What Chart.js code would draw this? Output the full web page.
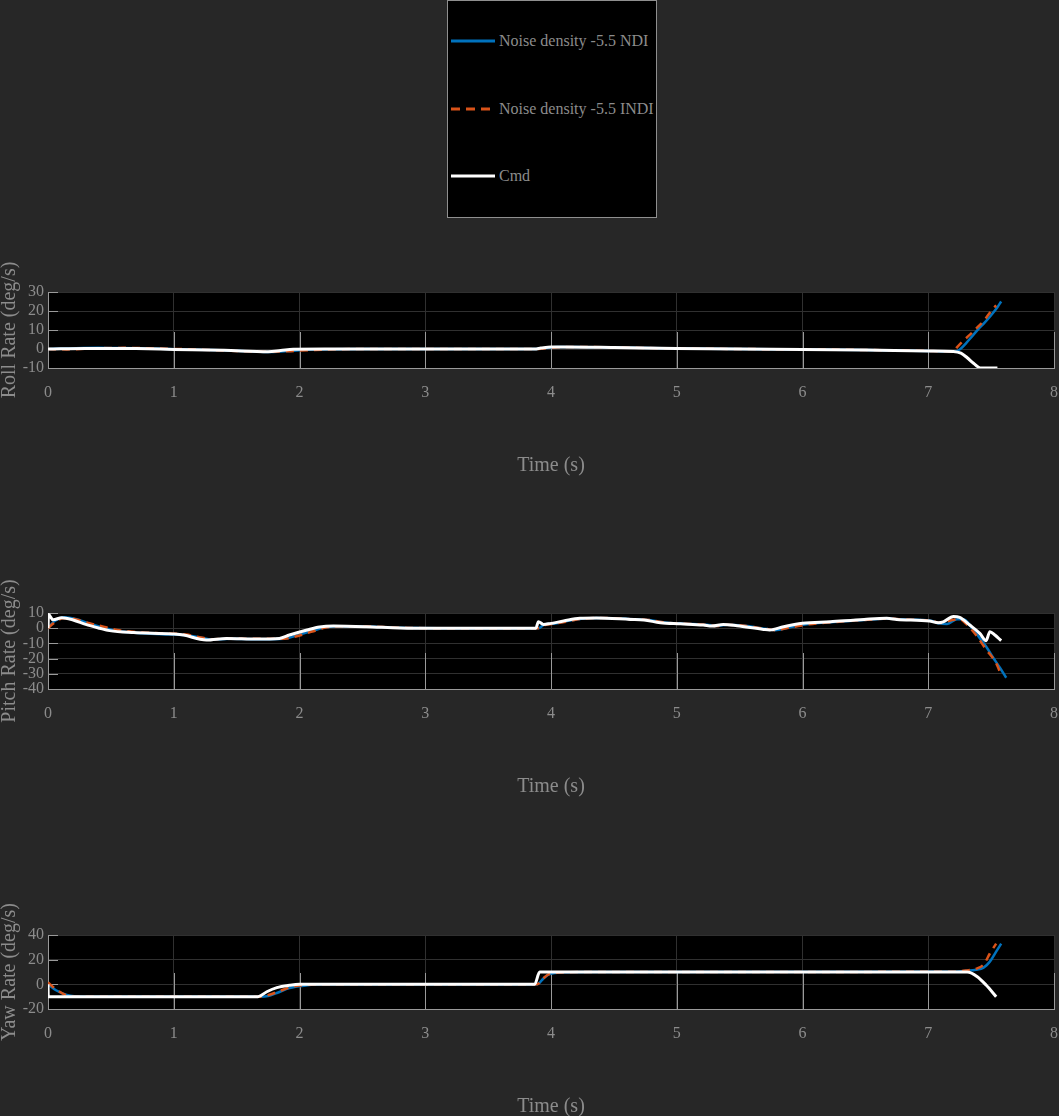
<!DOCTYPE html>
<html><head><meta charset="utf-8">
<script src="https://cdn.jsdelivr.net/npm/chart.js@4.4.1/dist/chart.umd.min.js"></script>
<style>
html,body{margin:0;padding:0;background:#272727;width:1059px;height:1116px;overflow:hidden;}
canvas{position:absolute;left:0;}
#legend{position:absolute;left:447px;top:0;width:210px;height:218px;background:#000;border:1px solid #8f8f8f;box-sizing:border-box;font-family:'Liberation Serif',serif;color:#8c8c8c;font-size:16px;}
.item{position:absolute;left:3px;height:20px;display:flex;align-items:center;white-space:nowrap;}
.item svg{margin-right:4px;}
</style>
</head><body>
<div id="legend"></div>
<canvas id="roll" width="1059" height="230" style="top:250px"></canvas>
<canvas id="pitch" width="1059" height="230" style="top:571px"></canvas>
<canvas id="yaw" width="1059" height="228" style="top:893px"></canvas>
<script>
// ---------- data ----------
const seriesNames = ['Noise density -5.5 NDI', 'Noise density -5.5 INDI', 'Cmd'];
const xTicks = [0, 1, 2, 3, 4, 5, 6, 7, 8];

// Roll rate (deg/s): [time, value]
const rollNDI = [[0,0],[0.15,0.3],[0.4,0.7],[0.6,0.5],[0.9,0.1],[1.2,-0.4],[1.5,-0.9],[1.75,-1.6],[1.9,-1.1],[2.1,-0.3],[2.5,0],[3.0,0],[3.88,0],[3.95,0.4],[4.05,1.0],[4.2,1.1],[4.5,0.8],[5.0,0.3],[5.5,0],[6.0,-0.2],[6.5,-0.5],[7.0,-1.0],[7.22,-1.3],[7.26,0.3],[7.3,3.0],[7.35,6.8],[7.4,10.6],[7.45,14.0],[7.5,17.8],[7.55,22.0],[7.58,25.0]];
const rollINDI = [[0,0],[0.15,-0.2],[0.4,0.4],[0.6,0.6],[0.9,0.2],[1.2,-0.3],[1.5,-1.0],[1.75,-1.4],[1.9,-1.2],[2.1,-0.5],[2.5,0],[3.0,0],[3.88,0],[3.95,0.2],[4.05,0.9],[4.2,1.1],[4.5,0.8],[5.0,0.3],[5.5,0],[6.0,-0.2],[6.5,-0.5],[7.0,-1.0],[7.2,-1.3],[7.23,1.0],[7.28,4.5],[7.33,7.4],[7.4,12.0],[7.45,15.5],[7.5,20.0],[7.54,23.0]];
const rollCmd = [[0,0],[0.3,0.3],[0.7,0.2],[1.0,-0.2],[1.4,-0.7],[1.75,-1.4],[1.85,-0.8],[1.95,-0.1],[2.2,0],[3.0,0],[3.87,0],[3.92,0.5],[4.0,1.1],[4.1,1.1],[4.5,0.8],[5.0,0.3],[5.5,0],[6.0,-0.2],[6.5,-0.5],[7.0,-1.0],[7.2,-1.3],[7.26,-2.2],[7.31,-4.6],[7.36,-7.5],[7.42,-10],[7.55,-10]];

// Pitch rate (deg/s)
const pitchNDI = [[0,0],[0.05,4.5],[0.13,7.2],[0.22,6.0],[0.33,3.0],[0.45,0.2],[0.55,-1.8],[0.75,-3.3],[1.0,-4.2],[1.1,-4.6],[1.25,-6.8],[1.3,-7.5],[1.45,-6.9],[1.7,-7.3],[1.88,-7.0],[1.96,-5.2],[2.1,-1.8],[2.2,0.4],[2.32,1.3],[2.55,1.1],[2.8,0.3],[3.1,0],[3.5,0],[3.9,0],[3.95,2.5],[4.02,3.0],[4.12,4.5],[4.26,6.4],[4.4,6.7],[4.66,5.9],[4.78,5.4],[4.9,3.8],[5.06,3.0],[5.24,2.2],[5.32,1.5],[5.4,2.3],[5.52,1.7],[5.72,-0.6],[5.78,-1.3],[5.9,0.6],[6.05,2.8],[6.25,4.1],[6.52,5.6],[6.7,6.4],[6.78,5.9],[7.04,4.6],[7.08,3.2],[7.15,2.8],[7.23,5.9],[7.28,5.9],[7.35,0],[7.41,-6.6],[7.46,-12],[7.51,-18.6],[7.57,-26],[7.62,-32.6]];
const pitchINDI = [[0,0],[0.04,3],[0.12,6.5],[0.2,6.2],[0.32,3.5],[0.45,0.8],[0.55,-1.2],[0.75,-2.8],[1.0,-3.6],[1.1,-4.2],[1.24,-6.5],[1.3,-7.2],[1.45,-6.8],[1.7,-7.0],[1.88,-6.9],[1.97,-5.5],[2.1,-2.2],[2.2,0.2],[2.32,1.3],[2.55,1.1],[2.8,0.3],[3.1,0],[3.5,0],[3.9,0],[3.95,2.0],[4.02,2.8],[4.12,4.3],[4.26,6.3],[4.4,6.7],[4.66,5.9],[4.78,5.4],[4.9,3.8],[5.06,3.0],[5.24,2.2],[5.32,1.5],[5.4,2.3],[5.52,1.7],[5.72,-0.6],[5.78,-1.3],[5.9,0.4],[6.05,2.6],[6.25,4.0],[6.52,5.6],[6.7,6.4],[6.78,5.9],[7.04,4.6],[7.1,3.4],[7.19,5.4],[7.25,5.9],[7.3,3.0],[7.38,-4.5],[7.46,-14],[7.54,-23],[7.58,-30.8]];
const pitchCmd = [[0,0],[0.004,9],[0.04,5.5],[0.11,6.9],[0.2,5.4],[0.3,2.5],[0.41,0],[0.49,-1.6],[0.68,-2.9],[0.99,-3.8],[1.08,-4.5],[1.21,-7.3],[1.26,-7.8],[1.42,-6.7],[1.66,-7.1],[1.84,-6.7],[1.92,-4.5],[2.06,-1.2],[2.16,0.8],[2.27,1.4],[2.53,1.0],[2.8,0.2],[3.06,0],[3.5,0],[3.88,0],[3.9,4.3],[3.94,2.5],[3.99,3.0],[4.1,4.7],[4.23,6.5],[4.36,6.7],[4.63,5.8],[4.74,5.4],[4.87,3.6],[5.03,2.9],[5.21,2.1],[5.28,1.4],[5.37,2.5],[5.48,1.6],[5.69,-0.8],[5.74,-1.2],[5.85,1.0],[6.0,3.2],[6.22,4.3],[6.49,5.8],[6.67,6.5],[6.75,5.8],[7.01,4.7],[7.08,3.6],[7.12,4.2],[7.2,7.7],[7.25,7.1],[7.33,2.1],[7.41,-3.4],[7.46,-8.2],[7.49,-2.3],[7.53,-4.5],[7.58,-8.2]];

// Yaw rate (deg/s)
const yawNDI = [[0,0],[0.06,-4.6],[0.15,-8.6],[0.28,-10],[1.69,-10],[1.75,-9.5],[1.82,-7],[1.92,-3],[2.06,-0.8],[2.16,0],[3.89,0],[3.94,4.8],[3.99,8.4],[4.1,9.7],[4.3,10],[7.2,10.2],[7.3,11],[7.38,11.8],[7.44,13.5],[7.49,18.4],[7.54,26.5],[7.58,33]];
const yawINDI = [[0,1.5],[0.05,-3],[0.15,-9],[0.25,-10],[1.69,-10],[1.76,-8.5],[1.84,-5.5],[1.94,-2],[2.06,-0.5],[2.15,0],[3.89,0],[3.93,4],[3.98,8],[4.08,9.6],[4.3,10],[7.2,10.2],[7.3,11.2],[7.39,13],[7.44,16],[7.49,25],[7.54,33]];
const yawCmd = [[0,0],[0.002,-10],[1.67,-10],[1.74,-6],[1.82,-2.7],[1.92,-0.8],[2.0,0],[3.87,0],[3.91,10],[7.31,10],[7.39,6.2],[7.46,-0.6],[7.54,-10]];

const rollTicks = [-10, 0, 10, 20, 30];
const pitchTicks = [-40, -30, -20, -10, 0, 10];
const yawTicks = [-20, 0, 20, 40];

// ---------- styling ----------
const COLORS = ['#0072BD', '#D95319', '#FFFFFF'];
const TEXT = '#8c8c8c';
Chart.defaults.font.family = "'Liberation Serif', 'Times New Roman', serif";
Chart.defaults.color = TEXT;

// legend (HTML)
(function(){
  const lg = document.getElementById('legend');
  const ys = [41, 109, 176];
  seriesNames.forEach((n, i) => {
    const d = document.createElement('div');
    d.className = 'item';
    d.style.top = (ys[i] - 1 - 10) + 'px';
    const dash = i === 1 ? ' stroke-dasharray="9 6"' : '';
    d.innerHTML = '<svg width="44" height="6"><line x1="0" y1="3" x2="44" y2="3" stroke="' + COLORS[i] + '" stroke-width="3"' + dash + '/></svg><span>' + n + '</span>';
    lg.appendChild(d);
  });
})();

const axesDeco = {
  id: 'axesDeco',
  beforeDraw(chart) {
    const {ctx, chartArea: a} = chart;
    ctx.save();
    ctx.fillStyle = '#000';
    ctx.fillRect(a.left, a.top, a.right - a.left, a.bottom - a.top);
    ctx.restore();
  },
  beforeDatasetsDraw(chart) {
    const {ctx, chartArea: a, scales: {x, y}} = chart;
    ctx.save();
    ctx.strokeStyle = '#9a9a9a';
    ctx.lineWidth = 1;
    x.ticks.forEach(t => {
      const px = Math.round(x.getPixelForValue(t.value)) + 0.5;
      ctx.beginPath(); ctx.moveTo(px, a.bottom); ctx.lineTo(px, a.bottom - 36); ctx.stroke();
    });
    y.ticks.forEach(t => {
      const py = Math.round(y.getPixelForValue(t.value)) + 0.5;
      ctx.beginPath(); ctx.moveTo(a.left, py); ctx.lineTo(a.left + 10, py); ctx.stroke();
    });
    ctx.restore();
  }
};

function toXY(arr) { return arr.map(p => ({x: p[0], y: p[1]})); }

function makeChart(id, ndi, indi, cmd, yTicks, yTitle) {
  const ds = [ndi, indi, cmd].map((d, i) => ({
    label: seriesNames[i],
    data: toXY(d),
    borderColor: COLORS[i],
    backgroundColor: COLORS[i],
    borderWidth: i === 2 ? 3 : 2.5,
    borderDash: i === 1 ? [8, 6] : [],
    pointRadius: 0,
    fill: false,
    cubicInterpolationMode: 'monotone',
    order: 2 - i
  }));
  return new Chart(document.getElementById(id), {
    type: 'line',
    data: {datasets: ds},
    plugins: [axesDeco],
    options: {
      responsive: false,
      animation: false,
      devicePixelRatio: 1,
      layout: {padding: {top: 42, right: 5, left: 0, bottom: 0}},
      plugins: {legend: {display: false}, tooltip: {enabled: false}},
      scales: {
        x: {
          type: 'linear', min: xTicks[0], max: xTicks[xTicks.length - 1],
          afterBuildTicks: s => { s.ticks = xTicks.map(v => ({value: v})); },
          afterFit: s => { s.height = 112; s.paddingLeft = 0; s.paddingRight = 0; },
          ticks: {font: {size: 16}, padding: 15, color: TEXT, maxRotation: 0, autoSkip: false},
          grid: {color: '#303030', drawTicks: false},
          border: {display: true, color: '#9a9a9a'},
          title: {display: true, text: 'Time (s)', font: {size: 20}, color: TEXT, padding: {top: 0, bottom: 2}}
        },
        y: {
          min: yTicks[0], max: yTicks[yTicks.length - 1],
          afterBuildTicks: s => { s.ticks = yTicks.map(v => ({value: v})); },
          afterFit: s => { s.width = 48; s.paddingTop = 0; s.paddingBottom = 0; },
          ticks: {font: {size: 16}, padding: 4, color: TEXT, autoSkip: false},
          grid: {color: '#303030', drawTicks: false},
          border: {display: true, color: '#9a9a9a'},
          title: {display: true, text: yTitle, font: {size: 20, lineHeight: 1}, color: TEXT, padding: {top: 0, bottom: 0}}
        }
      }
    }
  });
}

makeChart('roll', rollNDI, rollINDI, rollCmd, rollTicks, 'Roll Rate (deg/s)');
makeChart('pitch', pitchNDI, pitchINDI, pitchCmd, pitchTicks, 'Pitch Rate (deg/s)');
makeChart('yaw', yawNDI, yawINDI, yawCmd, yawTicks, 'Yaw Rate (deg/s)');
</script>
</body></html>
